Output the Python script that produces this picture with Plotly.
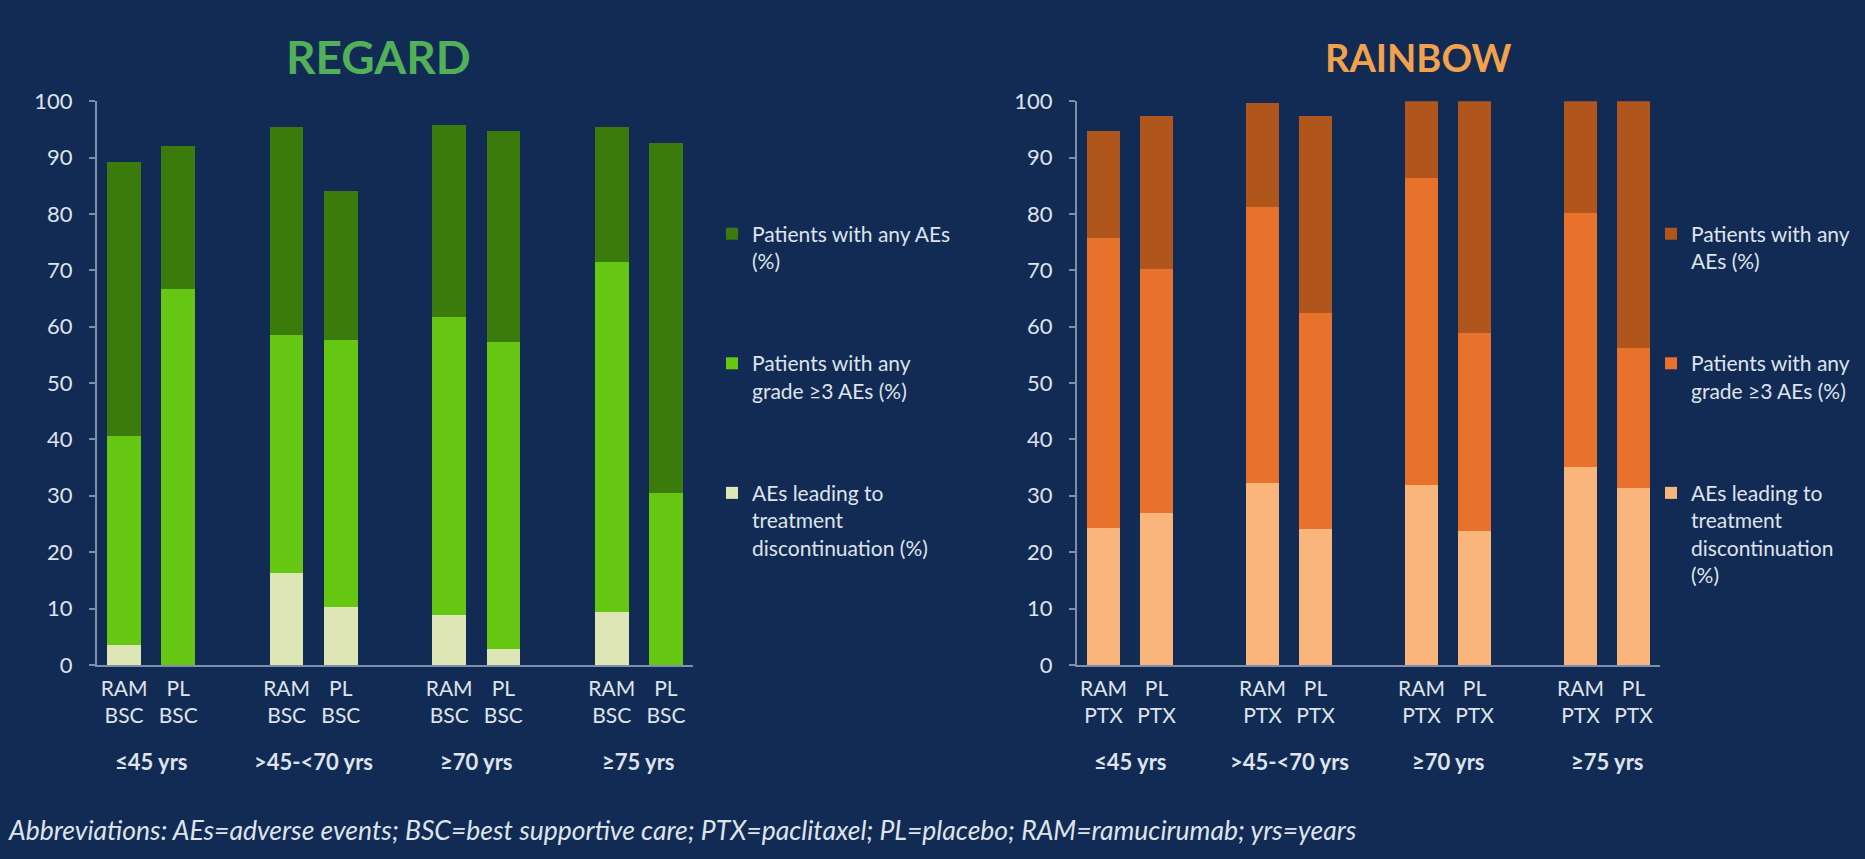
import plotly.graph_objects as go

# --- data -----------------------------------------------------------------
age_groups = ["≤45 yrs", ">45-<70 yrs", "≥70 yrs", "≥75 yrs"]
regard_arms = ["RAM<br>BSC", "PL<br>BSC"]
rainbow_arms = ["RAM<br>PTX", "PL<br>PTX"]

series_names_regard = [
    "Patients with any AEs<br>(%)",
    "Patients with any<br>grade ≥3 AEs (%)",
    "AEs leading to<br>treatment<br>discontinuation (%)",
]
series_names_rainbow = [
    "Patients with any<br>AEs (%)",
    "Patients with any<br>grade ≥3 AEs (%)",
    "AEs leading to<br>treatment<br>discontinuation<br>(%)",
]

# values per bar: RAM, PL for each age group in order
regard_any_ae = [89.1, 92.0, 95.4, 84.1, 95.7, 94.6, 95.4, 92.6]
regard_grade3 = [40.6, 66.7, 58.5, 57.6, 61.6, 57.3, 71.5, 30.5]
regard_discont = [3.5, 0.0, 16.2, 10.2, 8.8, 2.7, 9.3, 0.0]

rainbow_any_ae = [94.6, 97.4, 99.6, 97.4, 100.0, 100.0, 100.0, 100.0]
rainbow_grade3 = [75.7, 70.2, 81.2, 62.4, 86.4, 58.8, 80.2, 56.2]
rainbow_discont = [24.3, 27.0, 32.2, 24.1, 31.9, 23.7, 35.1, 31.3]

y_ticks = [0, 10, 20, 30, 40, 50, 60, 70, 80, 90, 100]

# --- styling ---------------------------------------------------------------
BG = "#122b55"
TEXT = "#dfe3ea"
AXIS = "#7d8fab"
FONT = "Lato, 'Open Sans', sans-serif"

regard_colors = ["#3a7b0c", "#66c712", "#dfe6b6"]
rainbow_colors = ["#b0561c", "#e8722c", "#f9b57c"]

# slot positions: two bars per age group, with an empty slot between groups
slots = [3 * g + k for g in range(len(age_groups)) for k in range(2)]
group_centres = [3 * g + 0.5 for g in range(len(age_groups))]
tick_text_regard = [regard_arms[k] for g in range(len(age_groups)) for k in range(2)]
tick_text_rainbow = [rainbow_arms[k] for g in range(len(age_groups)) for k in range(2)]

fig = go.Figure()


def add_panel(series, names, colors, xref, yref, legend):
    for vals, name, col in zip(series, names, colors):
        fig.add_trace(go.Bar(
            x=slots, y=vals, name=name, width=0.62,
            marker=dict(color=col, line=dict(width=0)),
            xaxis=xref, yaxis=yref, legend=legend,
            legendgroup=legend + name,
        ))


add_panel([regard_any_ae, regard_grade3, regard_discont],
          series_names_regard, regard_colors, "x", "y", "legend")
add_panel([rainbow_any_ae, rainbow_grade3, rainbow_discont],
          series_names_rainbow, rainbow_colors, "x2", "y2", "legend2")

W, H = 1865, 859
y_dom = [(H - 672) / H, (H - 90) / H]

xaxis_common = dict(
    range=[-0.5, 10.5], tickvals=slots, showline=True, linecolor=AXIS,
    linewidth=2, ticks="", showgrid=False, zeroline=False,
    tickfont=dict(family=FONT, size=21, color=TEXT), ticklabelstandoff=4,
)
yaxis_common = dict(
    range=[0, 100], tickvals=y_ticks, showline=True, linecolor=AXIS,
    linewidth=2, ticks="outside", ticklen=6, tickcolor=AXIS, tickwidth=1.5,
    showgrid=False, zeroline=False,
    tickfont=dict(family=FONT, size=22, color=TEXT), ticklabelstandoff=12,
    domain=y_dom,
)

legend_common = dict(
    font=dict(family=FONT, size=21, color=TEXT), bgcolor="rgba(0,0,0,0)",
    tracegroupgap=72, valign="top", itemwidth=30, traceorder="grouped",
    xanchor="left", yanchor="top", yref="paper", xref="paper",
)

fig.update_layout(
    width=W, height=H, paper_bgcolor=BG, plot_bgcolor=BG,
    margin=dict(l=0, r=0, t=0, b=0), barmode="overlay", bargap=0,
    showlegend=True,
    xaxis=dict(xaxis_common, domain=[97 / W, 693 / W], ticktext=tick_text_regard),
    yaxis=dict(yaxis_common, anchor="x"),
    xaxis2=dict(xaxis_common, domain=[1077 / W, 1660 / W], ticktext=tick_text_rainbow),
    yaxis2=dict(yaxis_common, anchor="x2"),
    legend=dict(legend_common, x=712 / W, y=(H - 206) / H),
    legend2=dict(legend_common, x=1651 / W, y=(H - 206) / H),
)

# panel titles
fig.add_annotation(text="<b>REGARD</b>", x=378 / W, y=(H - 44) / H, xref="paper", yref="paper",
                   showarrow=False, font=dict(family=FONT, size=46, color="#52b058"),
                   xanchor="center", yanchor="middle")
fig.add_annotation(text="<b>RAINBOW</b>", x=1418 / W, y=(H - 44) / H, xref="paper", yref="paper",
                   showarrow=False, font=dict(family=FONT, size=38, color="#f2a24c"),
                   xanchor="center", yanchor="middle")

# age-group labels under each pair of bars
for xref in ["x", "x2"]:
    for c, label in zip(group_centres, age_groups):
        fig.add_annotation(text="<b>" + label + "</b>", x=c, xref=xref,
                           y=(H - 772) / H, yref="paper", showarrow=False,
                           font=dict(family=FONT, size=22, color=TEXT),
                           xanchor="center", yanchor="middle")

# footnote
fig.add_annotation(
    text="<i>Abbreviations: AEs=adverse events; BSC=best supportive care; PTX=paclitaxel; "
         "PL=placebo; RAM=ramucirumab; yrs=years</i>",
    x=6 / W, y=(H - 842) / H, xref="paper", yref="paper", showarrow=False,
    font=dict(family=FONT, size=26.5, color=TEXT), xanchor="left", yanchor="middle",
)

fig.write_html("out.html")
